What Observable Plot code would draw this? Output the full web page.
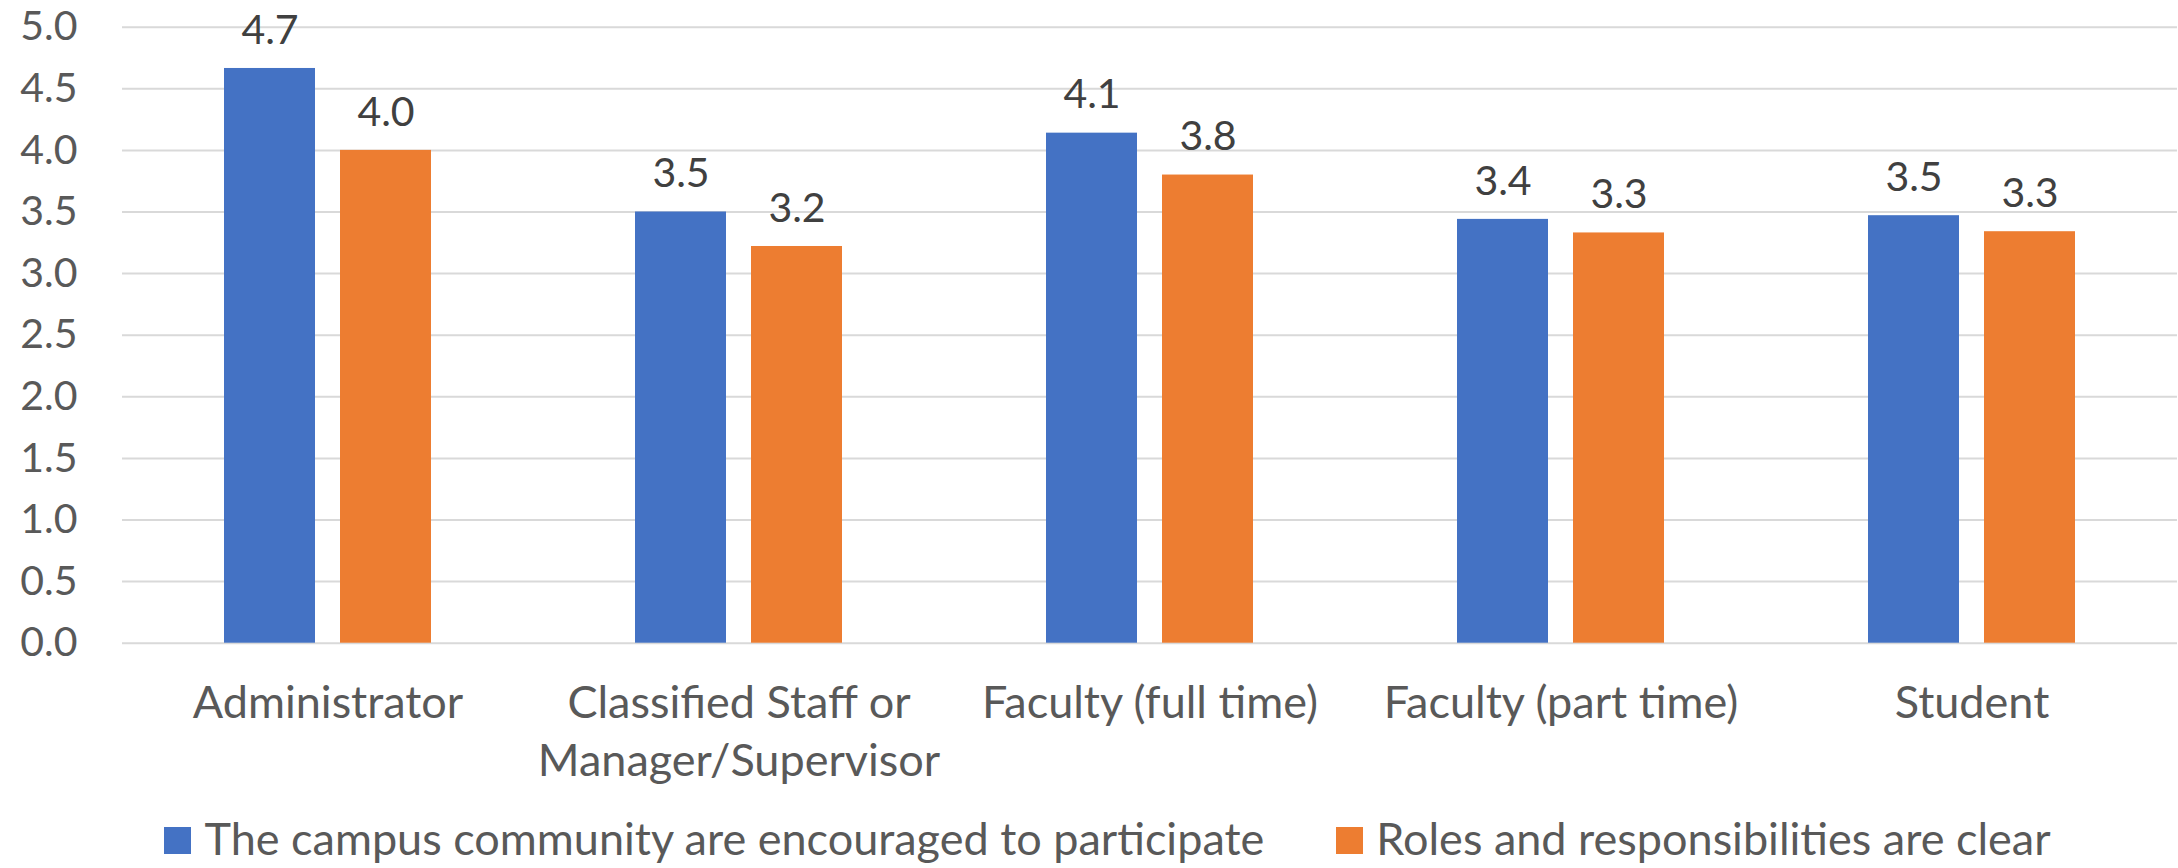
<!DOCTYPE html>
<html>
<head>
<meta charset="utf-8">
<script src="https://cdn.jsdelivr.net/npm/d3@7"></script>
<script src="https://cdn.jsdelivr.net/npm/@observablehq/plot@0.6"></script>
<style>
  html, body { margin: 0; padding: 0; background: #fff; }
  #chart { width: 2178px; }
  .legend { display: flex; justify-content: center; align-items: center; height: 68px; box-sizing: border-box;
            padding-left: 37px; padding-top: 8px; font-family: Lato, sans-serif; font-size: 45px; color: #595959; }
  .legend .item { display: flex; align-items: center; }
  .legend .sw { width: 27px; height: 27px; margin-right: 13px; position: relative; top: 2px; }
  .legend .gap { width: 72px; }
</style>
</head>
<body>
<div id="chart"></div>
<script>
const categories = ["Administrator", "Classified Staff", "Faculty (full time)", "Faculty (part time)", "Student"];
const categoryLabels = ["Administrator", "Classified Staff or\nManager/Supervisor", "Faculty (full time)", "Faculty (part time)", "Student"];
const seriesNames = ["The campus community are encouraged to participate", "Roles and responsibilities are clear"];
const encouraged = [4.665, 3.50, 4.14, 3.44, 3.47];
const rolesClear = [4.00, 3.22, 3.80, 3.33, 3.34];
const yTicks = [0, 0.5, 1, 1.5, 2, 2.5, 3, 3.5, 4, 4.5, 5];
const colors = ["#4472C4", "#ED7D31"];

const rows = [];
categories.forEach((c, i) => {
  rows.push({category: c, series: seriesNames[0], value: encouraged[i]});
  rows.push({category: c, series: seriesNames[1], value: rolesClear[i]});
});

const plot = Plot.plot({
  width: 2178,
  height: 800,
  marginLeft: 121,
  marginRight: 1,
  marginTop: 26.7,
  marginBottom: 157.3,
  style: {fontFamily: "Lato, sans-serif", fontSize: "41px", color: "#595959", background: "#fff"},
  fx: {domain: categories, padding: 0, axis: null},
  x: {domain: seriesNames, paddingInner: 0.214, paddingOuter: 0.864, align: 0.5, axis: null},
  y: {domain: [0, 5], ticks: yTicks, tickFormat: d => d.toFixed(1), tickSize: 0, tickPadding: 45, label: null},
  color: {domain: seriesNames, range: colors},
  marks: [
    Plot.ruleY(yTicks, {stroke: "#D9D9D9", strokeWidth: 2}),
    Plot.barY(rows, {fx: "category", x: "series", y: "value", fill: "series", insetLeft: 0, insetRight: 0}),
    Plot.text(rows, {fx: "category", x: "series", y: "value", text: d => d.value.toFixed(1),
      lineAnchor: "middle", dy: -38, fill: "#404040", fontSize: 41}),
    Plot.text(categories, {fx: d => d, text: (d, i) => categoryLabels[i], frameAnchor: "bottom",
      lineAnchor: "top", dy: 34, lineHeight: 1.29, fill: "#595959", fontSize: 45})
  ]
});
document.getElementById("chart").appendChild(plot);

const legend = document.createElement("div");
legend.className = "legend";
seriesNames.forEach((s, i) => {
  if (i > 0) { const g = document.createElement("div"); g.className = "gap"; legend.appendChild(g); }
  const item = document.createElement("div");
  item.className = "item";
  const sw = document.createElement("div");
  sw.className = "sw";
  sw.style.background = colors[i];
  const t = document.createElement("span");
  t.textContent = s;
  item.appendChild(sw);
  item.appendChild(t);
  legend.appendChild(item);
});
document.getElementById("chart").appendChild(legend);
</script>
</body>
</html>
